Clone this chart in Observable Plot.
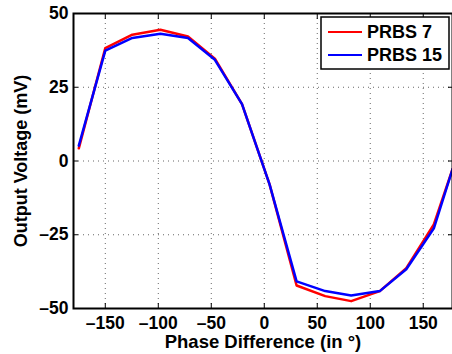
<!DOCTYPE html>
<html><head><meta charset="utf-8">
<script src="https://cdn.jsdelivr.net/npm/d3@7"></script>
<script src="https://cdn.jsdelivr.net/npm/@observablehq/plot@0.6"></script>
<style>
body{margin:0;background:#fff;}
#chart{width:452px;height:354px;}
</style></head><body><div id="chart"></div>
<script>
// Data
const phase  = [-175, -150, -124.5, -98, -72, -46.6, -21, 5, 30.5, 57.5, 82, 109, 134, 160, 177.6];
const prbs7  = [4.3, 38.3, 42.8, 44.5, 42.2, 34.7, 19.3, -7.9, -42.2, -45.8, -47.5, -44.1, -36.3, -21.5, -2.8];
const prbs15 = [5.2, 37.4, 41.7, 43.1, 41.7, 34.3, 19.3, -7.9, -40.8, -44.1, -45.6, -44.1, -36.7, -22.8, -2.8];
const seriesNames = ["PRBS 7", "PRBS 15"];
const seriesColors = ["#ff0000", "#0000ff"];
const xTicks = [-150, -100, -50, 0, 50, 100, 150];
const yTicks = [-50, -25, 0, 25, 50];
const xDomain = [-180, 177.6];
const yDomain = [-50, 50];
const xLabel = "Phase Difference (in °)";
const yLabel = "Output Voltage (mV)";

const series = [prbs7, prbs15].map((vals, k) =>
  phase.map((p, i) => ({phase: p, v: vals[i], name: seriesNames[k]})));

const fmt = d => d < 0 ? "\u2013" + Math.abs(d) : String(d);

const chart = Plot.plot({
  width: 452,
  height: 354,
  marginLeft: 73,
  marginRight: 0,
  marginTop: 13,
  marginBottom: 46,
  style: {fontFamily: "'Liberation Sans', Arial, sans-serif", fontSize: "17.5px", fontWeight: "bold", background: "white", color: "black"},
  x: {domain: xDomain, ticks: xTicks},
  y: {domain: yDomain, ticks: yTicks},
  marks: [
    Plot.gridX(xTicks, {stroke: "#000", strokeOpacity: 0.6, strokeDasharray: "1,4"}),
    Plot.gridY(yTicks, {stroke: "#000", strokeOpacity: 0.6, strokeDasharray: "1,4"}),
    Plot.axisX(xTicks, {anchor: "bottom", tickSize: 0, tickPadding: 8, tickFormat: fmt, label: null}),
    Plot.axisY(yTicks, {anchor: "left", tickSize: 0, tickPadding: 5, tickFormat: fmt, label: null}),
    Plot.axisX(xTicks, {anchor: "top", tickSize: -5, tickFormat: () => "", label: null}),
    Plot.axisX(xTicks, {anchor: "bottom", tickSize: -5, tickFormat: () => "", label: null}),
    Plot.axisY(yTicks, {anchor: "left", tickSize: -5, tickFormat: () => "", label: null}),
    Plot.axisY(yTicks, {anchor: "right", tickSize: -5, tickFormat: () => "", label: null}),
    ...series.map((s, k) => Plot.line(s, {x: "phase", y: "v", stroke: seriesColors[k], strokeWidth: 2.5})),
    Plot.frame({stroke: "black", strokeWidth: 2}),
    Plot.text([xLabel], {frameAnchor: "bottom", dy: 34, textAnchor: "middle", lineAnchor: "middle", fontSize: 18.5, fontWeight: "bold"}),
    Plot.text([yLabel], {frameAnchor: "left", dx: -52, rotate: -90, textAnchor: "middle", lineAnchor: "middle", fontSize: 18, fontWeight: "bold"})
  ]
});

// Legend inside the plot, top-right
const svg = d3.select(chart);
const lg = svg.append("g").attr("transform", "translate(321,17)");
lg.append("rect").attr("width", 128).attr("height", 52).attr("fill", "white").attr("stroke", "black").attr("stroke-width", 1.5);
seriesNames.forEach((n, i) => {
  const yy = 15 + i * 23;
  lg.append("line").attr("x1", 7).attr("x2", 41).attr("y1", yy).attr("y2", yy).attr("stroke", seriesColors[i]).attr("stroke-width", 2);
  lg.append("text").attr("x", 46).attr("y", yy).attr("dy", "0.35em").attr("text-anchor", "start").attr("font-size", 18).attr("font-weight", "bold").attr("fill", "black").text(n);
});

document.getElementById("chart").appendChild(chart);
</script>
</body></html>
